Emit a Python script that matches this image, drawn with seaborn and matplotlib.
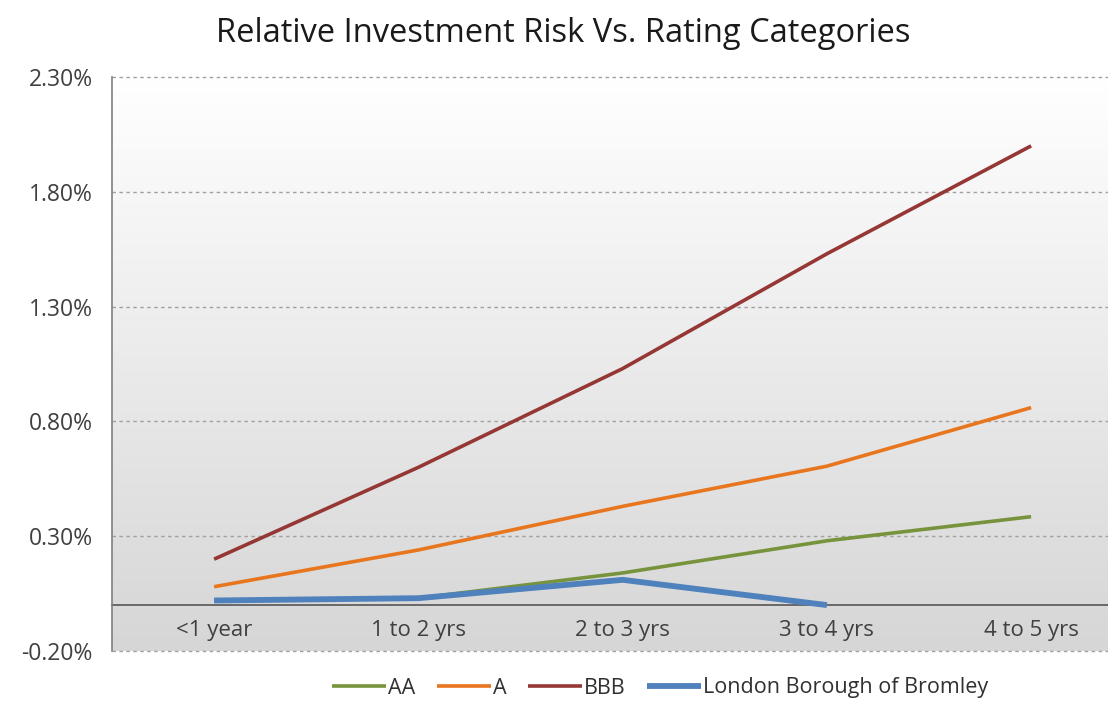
import numpy as np
import pandas as pd
import matplotlib
matplotlib.use("Agg")
import matplotlib.pyplot as plt
import seaborn as sns
from matplotlib.ticker import FuncFormatter

categories = ["<1 year", "1 to 2 yrs", "2 to 3 yrs", "3 to 4 yrs", "4 to 5 yrs"]
aa = [0.02, 0.03, 0.14, 0.28, 0.385]
a = [0.08, 0.24, 0.43, 0.605, 0.86]
bbb = [0.20, 0.60, 1.03, 1.53, 2.00]
bromley = [0.02, 0.03, 0.11, 0.00, np.nan]
yticks = [-0.20, 0.30, 0.80, 1.30, 1.80, 2.30]

series = {"AA": aa, "A": a, "BBB": bbb, "London Borough of Bromley": bromley}
colors = {"AA": "#77933C", "A": "#E8761E", "BBB": "#953735", "London Borough of Bromley": "#4F81BD"}
widths = {"AA": 2.6, "A": 2.6, "BBB": 2.6, "London Borough of Bromley": 4.2}

sns.set_style("white")
plt.rcParams["font.family"] = ["Open Sans", "DejaVu Sans"]

fig = plt.figure(figsize=(11.08, 7.04), dpi=100)
W, H = 1108, 704
left, right, top, bottom = 112, 1121, 77, 651
ax = fig.add_axes([left / W, 1 - bottom / H, (right - left) / W, (bottom - top) / H])

# gradient background: white at top to light grey at bottom
grad = np.linspace(0, 1, 256).reshape(-1, 1)
cmap = matplotlib.colors.LinearSegmentedColormap.from_list("bg", ["#FFFFFF", "#D6D6D6"])
ax.imshow(grad, aspect="auto", cmap=cmap, extent=[0, 1, 0, 1], origin="upper",
          transform=ax.transAxes, zorder=0)

for name, vals in series.items():
    df = pd.DataFrame({"x": np.arange(len(categories)), "y": vals}).dropna()
    sns.lineplot(data=df, x="x", y="y", ax=ax, color=colors[name], linewidth=widths[name],
                 label=name, zorder=3, solid_capstyle="butt")

ax.set_xlim(-0.5, 4.44)
ax.set_ylim(-0.20, 2.30)
ax.set_yticks(yticks)
ax.yaxis.set_major_formatter(FuncFormatter(lambda v, p: f"{v:.2f}%"))
ax.set_xticks(range(len(categories)))
ax.set_xticklabels(categories)
ax.set_xlabel("")
ax.set_ylabel("")

ax.spines["bottom"].set_position(("data", 0))
ax.spines["bottom"].set_color("#555555")
ax.spines["bottom"].set_linewidth(1.2)
ax.spines["left"].set_color("#808080")
ax.spines["left"].set_linewidth(1.2)
ax.spines["top"].set_visible(False)
ax.spines["right"].set_visible(False)
ax.spines["bottom"].set_zorder(2)

ax.yaxis.grid(True, color="#A0A0A0", linestyle=(0, (2.5, 2.5)), linewidth=1.0)
for gl in ax.yaxis.get_gridlines():
    gl.set_clip_on(False)
ax.set_axisbelow(True)
ax.tick_params(axis="y", labelsize=16.5, colors="#404040", length=0, pad=14)
ax.tick_params(axis="x", labelsize=16, colors="#404040", length=0, pad=11)

fig.text(563 / W, 1 - 33 / H, "Relative Investment Risk Vs. Rating Categories",
         ha="center", va="center", fontsize=23.5, color="#1A1A1A")

if ax.legend_:
    ax.legend_.remove()
handles, labels = ax.get_legend_handles_labels()
fig.legend(handles, labels, loc="center", bbox_to_anchor=(660 / W, 1 - 688 / H), ncol=4,
           frameon=False, fontsize=15.5, handlelength=2.5, handletextpad=0.1,
           columnspacing=1.0, labelcolor="#303030")

fig.savefig("out.png", dpi=100)
